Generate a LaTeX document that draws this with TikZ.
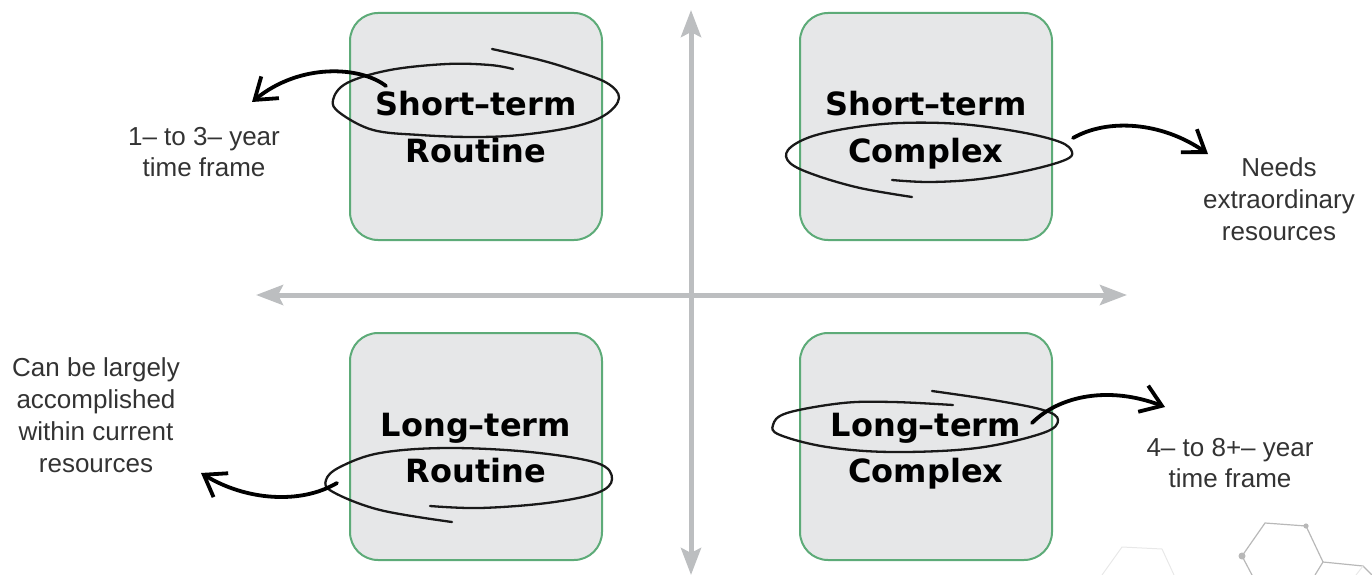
\documentclass[tikz,border=0pt]{standalone}
\usepackage{fontspec}
\setmainfont{Liberation Sans}
\newfontfamily\labelfont{DejaVu Sans}
\usetikzlibrary{arrows.meta}
\definecolor{boxfill}{HTML}{E6E7E8}
\definecolor{boxedge}{HTML}{5DAB78}
\definecolor{axisgray}{HTML}{BCBEC0}
\definecolor{sidetext}{HTML}{333333}
\definecolor{hexdark}{HTML}{B8B8B8}
\definecolor{hexlight}{HTML}{E8E8E8}
\begin{document}
\begin{tikzpicture}[x=1pt,y=-1pt,
  quad/.style={draw=boxedge, line width=2pt, fill=boxfill, rounded corners=28pt,
    minimum width=252pt, minimum height=227pt, inner sep=0pt},
  lbl/.style={font=\labelfont\bfseries\fontsize{32}{38}\selectfont, anchor=base, inner sep=0pt},
  side/.style={font=\fontsize{26}{31}\selectfont, text=sidetext, anchor=base, inner sep=0pt},
  axis/.style={draw=axisgray, line width=5pt, {Stealth[length=27pt,width=20pt,inset=5pt]}-{Stealth[length=27pt,width=20pt,inset=5pt]}},
  scribble/.style={draw=black!90, line width=2.3pt, line cap=round, line join=round},
  hand/.style={draw=black, line width=3.8pt, line cap=round, -{Straight Barb[length=20pt,width=28pt]}},
]
\useasboundingbox (0,0) rectangle (1372,575);

% axes
\coordinate (vt) at (691,10);
\coordinate (vb) at (691,575);
\coordinate (hl) at (256,295);
\coordinate (hr) at (1127,295);
\draw[axis] (vb) -- (vt);
\draw[axis] (hl) -- (hr);

% boxes
\node[quad] (tl) at (476,126.5) {};
\node[quad] (tr) at (926,126.5) {};
\node[quad] (bl) at (476,446.5) {};
\node[quad] (br) at (926,446.5) {};

% labels
\node[lbl] (tlA) at (476,116) {Short–term};
\node[lbl] (tlB) at (476,162) {Routine};
\node[lbl] (trA) at (926,116) {Short–term};
\node[lbl] (trB) at (926,162) {Complex};
\node[lbl] (blA) at (476,436) {Long–term};
\node[lbl] (blB) at (476,482) {Routine};
\node[lbl] (brA) at (926,436) {Long–term};
\node[lbl] (brB) at (926,482) {Complex};

% side texts
\node[side] (tlt1) at (204,145) {1– to 3– year};
\node[side] (tlt2) at (204,176) {time frame};
\node[side] (trt1) at (1279,176) {Needs};
\node[side] (trt2) at (1279,208) {extraordinary};
\node[side] (trt3) at (1279,240) {resources};
\node[side] (blt1) at (96,376) {Can be largely};
\node[side] (blt2) at (96,408) {accomplished};
\node[side] (blt3) at (96,440) {within current};
\node[side] (blt4) at (96,472) {resources};
\node[side] (brt1) at (1230,456) {4– to 8+– year};
\node[side] (brt2) at (1230,487) {time frame};

% scribbled loops
\draw[scribble] plot[smooth, tension=0.6] coordinates {(492,49) (540,60) (573,70) (607,83) (619,98) (605,115) (573,127) (520,135) (473,137) (420,135) (373,130) (340,113) (333,100) (347,83) (390,70) (447,64) (490,65) (513,69)};
\draw[scribble] plot[smooth, tension=0.6] coordinates {(892,180) (930,182) (980,179) (1030,170) (1065,160) (1072,152) (1060,142) (1020,132) (960,124) (900,123) (850,128) (810,137) (788,150) (790,163) (815,175) (860,188) (912,197)};
\draw[scribble] plot[smooth, tension=0.6] coordinates {(430,506) (480,508) (547,503) (597,493) (612,479) (597,463) (530,452) (447,448) (380,453) (340,467) (326,480) (333,492) (380,510) (452,522)};
\draw[scribble] plot[smooth, tension=0.6] coordinates {(932,391) (993,400) (1043,410) (1058,420) (1043,433) (977,448) (893,452) (827,447) (780,435) (773,425) (787,413) (843,403) (893,402) (953,405)};

% hand arrows
\coordinate (tlS) at (386,86);
\coordinate (tlE) at (252,102);
\coordinate (trS) at (1073,138);
\coordinate (trE) at (1208,154);
\coordinate (blS) at (337,483);
\coordinate (blE) at (201,473);
\coordinate (brS) at (1032,423);
\coordinate (brE) at (1165,407);
\draw[hand] (tlS) .. controls (360,66) and (300,63) .. (tlE);
\draw[hand] (trS) .. controls (1108,118) and (1162,122) .. (trE);
\draw[hand] (blS) .. controls (300,505) and (245,500) .. (blE);
\draw[hand] (brS) .. controls (1060,395) and (1110,386) .. (brE);

% hexagon decoration
\draw[hexlight, line width=1pt] (1102,575) -- (1122,547) -- (1162,549) -- (1174,575);
\draw[hexdark, line width=1.2pt] (1252,575) -- (1242,556) -- (1265,523) -- (1306,526) -- (1323,562) -- (1363,566) -- (1372,575);
\draw[hexdark, line width=1.2pt] (1323,562) -- (1315,575);
\draw[hexlight, line width=1pt] (1363,566) -- (1356,575);
\fill[hexdark] (1242,556) circle (3.5pt);
\fill[hexdark] (1306,526) circle (2.6pt);
\end{tikzpicture}
\end{document}
